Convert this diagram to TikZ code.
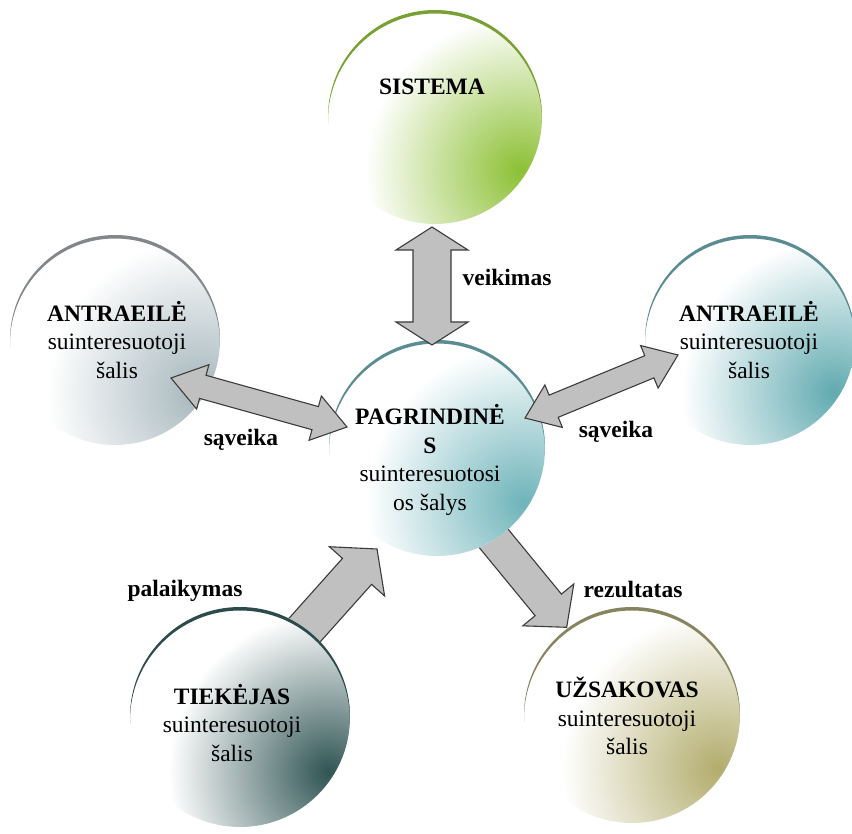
\documentclass[tikz,border=0pt]{standalone}
\usepackage{fontspec}
\setmainfont{Liberation Serif}
\usetikzlibrary{calc}
\definecolor{cSis}{RGB}{140,192,52}\definecolor{rSis}{RGB}{120,160,50}
\definecolor{cSide}{RGB}{165,182,188}\definecolor{rSide}{RGB}{130,135,138}
\definecolor{cRight}{RGB}{96,170,176}\definecolor{rRight}{RGB}{90,140,145}
\definecolor{cMain}{RGB}{110,180,186}\definecolor{rMain}{RGB}{90,140,145}
\definecolor{cTiek}{RGB}{48,84,84}\definecolor{rTiek}{RGB}{45,75,75}
\definecolor{cUzs}{RGB}{178,172,108}\definecolor{rUzs}{RGB}{135,132,95}
\definecolor{arrfill}{RGB}{192,192,192}\definecolor{arrline}{RGB}{60,60,60}
\tikzset{
  blockarrow/.style={fill=arrfill, draw=arrline, line width=1.1pt, line join=miter},
  titletext/.style={align=center, font={\fontsize{23.5}{28.5}\selectfont}},
  labeltext/.style={font={\fontsize{23.5}{28.5}\selectfont\bfseries}},
}
% ball: #1 name, #2 center, #3 radius (number, pt), #4 colour, #5 rim colour
\newcommand\myball[5]{%
  \coordinate (#1) at #2;
  \begin{scope}
    \clip (#1) circle (#3pt);
    \fill[white] (#1) circle (#3pt);
    \shade[inner color=#4, outer color=white] ($(#1)+(0.8*#3,0.5*#3)$) circle (1.45*#3pt);
    \fill[#5, even odd rule] (#1) circle (#3pt+3pt) ($(#1)+(0,3.5)$) circle (#3pt);
  \end{scope}}
% double arrow: #1 tip A, #2 tip B, #3 head length, #4 head half width, #5 shaft half width
\newcommand\mydblarrow[5]{%
  \coordinate (hA) at ($(#1)!#3!(#2)$);
  \coordinate (hB) at ($(#2)!#3!(#1)$);
  \draw[blockarrow] (#1) -- ($(hA)!#4!90:(#2)$) -- ($(hA)!#5!90:(#2)$)
    -- ($(hB)!#5!-90:(#1)$) -- ($(hB)!#4!-90:(#1)$) -- (#2)
    -- ($(hB)!#4!90:(#1)$) -- ($(hB)!#5!90:(#1)$)
    -- ($(hA)!#5!-90:(#2)$) -- ($(hA)!#4!-90:(#2)$) -- cycle;}
% single arrow: #1 back, #2 tip, #3 head length, #4 head half width, #5 shaft half width
\newcommand\mysglarrow[5]{%
  \coordinate (hT) at ($(#2)!#3!(#1)$);
  \draw[blockarrow] (#2) -- ($(hT)!#4!90:(#1)$) -- ($(hT)!#5!90:(#1)$)
    -- ($(#1)!#5!-90:(#2)$) -- ($(#1)!#5!90:(#2)$)
    -- ($(hT)!#5!-90:(#1)$) -- ($(hT)!#4!-90:(#1)$) -- cycle;}
\begin{document}
\begin{tikzpicture}[x=1pt,y=-1pt]
\useasboundingbox (0,0) rectangle (852,834);
\fill[white] (0,0) rectangle (852,834);
% single arrows (behind circles)
\coordinate (palS) at (277,661);
\coordinate (palT) at (377,549);
\coordinate (rezS) at (471.5,511.4);
\coordinate (rezT) at (566.7,627.3);
\mysglarrow{palS}{palT}{30pt}{37pt}{19.5pt}
\mysglarrow{rezS}{rezT}{29pt}{33pt}{17pt}
% circles
\myball{sis}{(435,117)}{107}{cSis}{rSis}
\myball{antL}{(115,340)}{105}{cSide}{rSide}
\myball{antR}{(750,340)}{105}{cRight}{rRight}
\myball{pag}{(437,448)}{108}{cMain}{rMain}
\myball{tiek}{(240,717)}{110}{cTiek}{rTiek}
\myball{uzs}{(632,715)}{108}{cUzs}{rUzs}
% double arrows
\coordinate (veiA) at (432,227);
\coordinate (veiB) at (432,345);
\mydblarrow{veiA}{veiB}{23pt}{36pt}{19pt}
\coordinate (savLA) at (171,378);
\coordinate (savLB) at (347,427);
\mydblarrow{savLA}{savLB}{33pt}{23pt}{12pt}
\coordinate (savRA) at (525,418);
\coordinate (savRB) at (678,355);
\mydblarrow{savRA}{savRB}{31pt}{23pt}{12pt}
% texts in circles
\node[titletext] (tSis) at (432,87) {\textbf{SISTEMA}};
\node[titletext] (tAntL) at (117,340) {\textbf{ANTRAEILĖ}\\suinteresuotoji\\šalis};
\node[titletext] (tAntR) at (749,340) {\textbf{ANTRAEILĖ}\\suinteresuotoji\\šalis};
\node[titletext] (tPag) at (430,460) {\textbf{PAGRINDINĖ}\\\textbf{S}\\suinteresuotosi\\os šalys};
\node[titletext] (tTiek) at (232,723) {\textbf{TIEKĖJAS}\\suinteresuotoji\\šalis};
\node[titletext] (tUzs) at (627,716) {\textbf{UŽSAKOVAS}\\suinteresuotoji\\šalis};
% connector labels
\node[labeltext] (lVei) at (507,277) {veikimas};
\node[labeltext] (lSavL) at (241,440) {sąveika};
\node[labeltext] (lSavR) at (616,432) {sąveika};
\node[labeltext] (lPal) at (185,591) {palaikymas};
\node[labeltext] (lRez) at (633,589) {rezultatas};
\end{tikzpicture}
\end{document}
